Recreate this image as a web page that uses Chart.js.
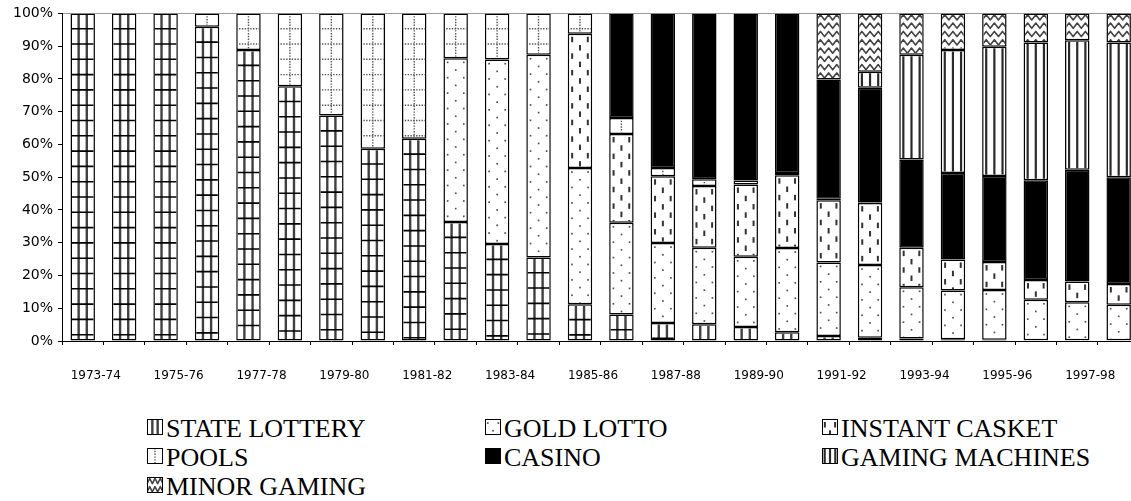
<!DOCTYPE html>
<html lang="en">
<head>
    <meta charset="UTF-8">
    <title>Gambling turnover shares</title>
    <script src="https://cdn.jsdelivr.net/npm/chart.js"></script>
    <style>
        html, body { margin: 0; padding: 0; background: #fff; overflow: hidden; width: 1131px; height: 501px; }
        #chart { position: absolute; left: 0; top: 0; }
        .item { position: absolute; height: 29px; white-space: nowrap; }
        .item canvas { position: absolute; left: 0; top: 3px; }
        .item span { position: absolute; left: 19px; top: 0; font: 26px/26px "Liberation Serif", "Times New Roman", serif; color: #000; }
    </style>
</head>
<body>
    <canvas id="chart" width="1150" height="400"></canvas>
    <div id="legend"></div>

    <script>
        const years = ['1973-74', '1974-75', '1975-76', '1976-77', '1977-78', '1978-79', '1979-80',
            '1980-81', '1981-82', '1982-83', '1983-84', '1984-85', '1985-86', '1986-87', '1987-88',
            '1988-89', '1989-90', '1990-91', '1991-92', '1992-93', '1993-94', '1994-95', '1995-96',
            '1996-97', '1997-98', '1998-99'];

        const seriesNames = ['STATE LOTTERY', 'GOLD LOTTO', 'INSTANT CASKET', 'POOLS', 'CASINO',
            'GAMING MACHINES', 'MINOR GAMING'];

        // shares of turnover, %
        const stateLottery = [100, 100, 100, 95.9, 88.8, 77.8, 68.8, 58.7, 61.7, 36.3, 29.6, 25.5, 11.2,
            8.1, 5.5, 5.1, 4.3, 2.7, 1.5, 1.0, 0.8, 0.5, 0.4, 0.2, 0.2, 0.2];
        const goldLotto = [null, null, null, null, null, null, null, null, null, 50.0, 56.3, 61.9, 41.6,
            28.0, 24.4, 23.4, 21.4, 25.7, 22.5, 22.2, 15.6, 14.9, 15.2, 12.4, 11.6, 10.9];
        const instantCasket = [null, null, null, null, null, null, null, null, null, null, null, null, 41.0,
            27.1, 20.4, 18.8, 22.1, 22.2, 19.0, 18.9, 12.1, 9.5, 8.5, 6.0, 6.4, 6.3];
        const pools = [null, null, null, 4.1, 11.2, 22.2, 31.2, 41.3, 38.3, 13.7, 14.1, 12.6, 6.2,
            4.9, 2.5, 2.1, 1.2, 0.7, 0.4, 0.2, null, null, null, null, null, null];
        const casino = [null, null, null, null, null, null, null, null, null, null, null, null, null,
            31.9, 47.2, 50.6, 51.0, 48.7, 36.4, 35.0, 26.9, 26.4, 26.3, 30.5, 34.1, 32.6];
        const gamingMachines = [null, null, null, null, null, null, null, null, null, null, null, null, null,
            null, null, null, null, null, null, 4.9, 32.0, 37.5, 39.4, 42.0, 39.5, 41.1];
        const minorGaming = [null, null, null, null, null, null, null, null, null, null, null, null, null,
            null, null, null, null, null, 20.2, 17.8, 12.6, 11.2, 10.2, 8.9, 8.2, 8.9];

        const seriesData = [stateLottery, goldLotto, instantCasket, pools, casino, gamingMachines, minorGaming];

        // --- hatch painters, drawn inside each bar segment ---
        function vline(c, x, y1, y2) { c.beginPath(); c.moveTo(x, y1); c.lineTo(x, y2); c.stroke(); }
        function hline(c, y, x1, x2) { c.beginPath(); c.moveTo(x1, y); c.lineTo(x2, y); c.stroke(); }

        function paintStateLottery(c, x, y, w, h) {
            c.strokeStyle = '#404040';
            c.lineWidth = 2.4;
            vline(c, x + w / 3, y, y + h);
            vline(c, x + 2 * w / 3, y, y + h);
            c.strokeStyle = '#000';
            c.lineWidth = 1.6;
            for (let yy = y + 15.3; yy < y + h - 1; yy += 15.3) hline(c, yy, x, x + w);
        }

        function paintGoldLotto(c, x, y, w, h) {
            c.fillStyle = '#555';
            for (let r = 0, yy = y + 4; yy < y + h; r++, yy += 7.7) {
                const xs = r % 2 ? [0.5] : [0.17, 0.83];
                xs.forEach(f => c.fillRect(x + f * w - 0.8, yy - 0.8, 1.7, 1.7));
            }
        }

        function paintInstant(c, x, y, w, h) {
            c.fillStyle = '#333';
            for (let r = 0, yy = y + 3; yy < y + h; r++, yy += 8.3) {
                const xs = r % 2 ? [0.5] : [0.18, 0.82];
                xs.forEach(f => c.fillRect(x + f * w - 1, yy, 2, 5.5));
            }
        }

        function paintPools(c, x, y, w, h) {
            c.strokeStyle = '#555';
            c.lineWidth = 1.4;
            c.setLineDash([1.4, 1.4]);
            vline(c, x + w / 2, y, y + h);
            for (let yy = y + 15.3; yy < y + h - 1; yy += 15.3) hline(c, yy, x, x + w);
            c.setLineDash([]);
        }

        function paintGaming(c, x, y, w, h) {
            c.strokeStyle = '#2a2a2a';
            c.lineWidth = 2.2;
            [1 / 6, 1 / 2, 5 / 6].forEach(f => vline(c, x + f * w, y, y + h));
        }

        function paintMinor(c, x, y, w, h) {
            c.strokeStyle = '#444';
            c.lineWidth = 1.6;
            c.lineJoin = 'round';
            const period = w / 3, amp = 2.6;
            for (let yy = y + 4; yy < y + h + 4; yy += 8.3) {
                c.beginPath();
                for (let k = 0; k <= 6; k++) {
                    const px = x + k * period / 2, py = yy + (k % 2 ? -amp : amp);
                    if (k) c.lineTo(px, py); else c.moveTo(px, py);
                }
                c.stroke();
            }
        }

        const painters = [paintStateLottery, paintGoldLotto, paintInstant, paintPools, null, paintGaming, paintMinor];

        const hatchPlugin = {
            id: 'hatch',
            afterDatasetsDraw(chart) {
                const c = chart.ctx;
                chart.data.datasets.forEach((ds, i) => {
                    const paint = painters[i];
                    if (!paint) return;
                    chart.getDatasetMeta(i).data.forEach((bar, j) => {
                        if (ds.data[j] == null) return;
                        const p = bar.getProps(['x', 'y', 'base', 'width'], true);
                        const left = p.x - p.width / 2;
                        const top = Math.min(p.y, p.base);
                        const h = Math.abs(p.base - p.y);
                        if (h < 4) return;
                        c.save();
                        c.beginPath();
                        c.rect(left + 1.5, top + 1.5, p.width - 3, h - 3);
                        c.clip();
                        paint(c, left, top, p.width, h);
                        c.restore();
                    });
                });
            }
        };

        const datasets = seriesNames.map((name, i) => ({
            label: name,
            data: seriesData[i],
            backgroundColor: i === 4 ? '#000' : '#fff',
            borderColor: '#000',
            borderWidth: 1.5,
            borderSkipped: false,
            barPercentage: 0.59,
            categoryPercentage: 1
        }));

        new Chart(document.getElementById('chart').getContext('2d'), {
            type: 'bar',
            data: { labels: years, datasets: datasets },
            options: {
                responsive: false,
                animation: false,
                devicePixelRatio: 1,
                layout: { padding: { top: 11, right: 10.6, bottom: 0, left: 0 } },
                plugins: {
                    legend: { display: false },
                    tooltip: { enabled: false }
                },
                scales: {
                    x: {
                        stacked: true,
                        afterFit: scale => { scale.height = 59; },
                        grid: { display: true, drawOnChartArea: false, offset: true, tickLength: 4, tickColor: '#000' },
                        border: { display: true, color: '#000', width: 1 },
                        ticks: {
                            autoSkip: false,
                            maxRotation: 0,
                            padding: 24,
                            labelOffset: 13,
                            color: '#000',
                            font: { family: 'DejaVu Sans', size: 12 },
                            callback: (v, i) => i % 2 === 0 ? years[i] : ''
                        }
                    },
                    y: {
                        stacked: true,
                        min: 0,
                        max: 100,
                        afterFit: scale => { scale.width = 62; },
                        grid: {
                            color: ctx => ctx.tick && ctx.tick.value === 100 ? '#9a9a9a' : 'rgba(0,0,0,0)',
                            tickColor: '#000',
                            tickLength: 4
                        },
                        border: { display: true, color: '#000', width: 1 },
                        ticks: {
                            stepSize: 10,
                            padding: 5,
                            color: '#000',
                            font: { family: 'DejaVu Sans', size: 14 },
                            callback: v => v + '%'
                        }
                    }
                }
            },
            plugins: [hatchPlugin]
        });

        // legend: 3 columns, same order as the stack
        const colX = [147, 485, 822];
        const rowY = [415.9, 444.7, 473.5];
        const legend = document.getElementById('legend');
        seriesNames.forEach((name, i) => {
            const item = document.createElement('div');
            item.className = 'item';
            item.style.left = colX[i % 3] + 'px';
            item.style.top = rowY[Math.floor(i / 3)] + 'px';
            const sw = document.createElement('canvas');
            sw.width = 16;
            sw.height = 16;
            const c = sw.getContext('2d');
            c.fillStyle = i === 4 ? '#000' : '#fff';
            c.fillRect(0, 0, 16, 16);
            if (painters[i]) {
                c.save();
                c.beginPath();
                c.rect(1, 1, 14, 14);
                c.clip();
                painters[i](c, 0, 0, 16, 16);
                c.restore();
            }
            c.strokeStyle = '#000';
            c.lineWidth = 1;
            c.strokeRect(0.5, 0.5, 15, 15);
            const label = document.createElement('span');
            label.textContent = name;
            item.appendChild(sw);
            item.appendChild(label);
            legend.appendChild(item);
        });
    </script>
</body>
</html>
